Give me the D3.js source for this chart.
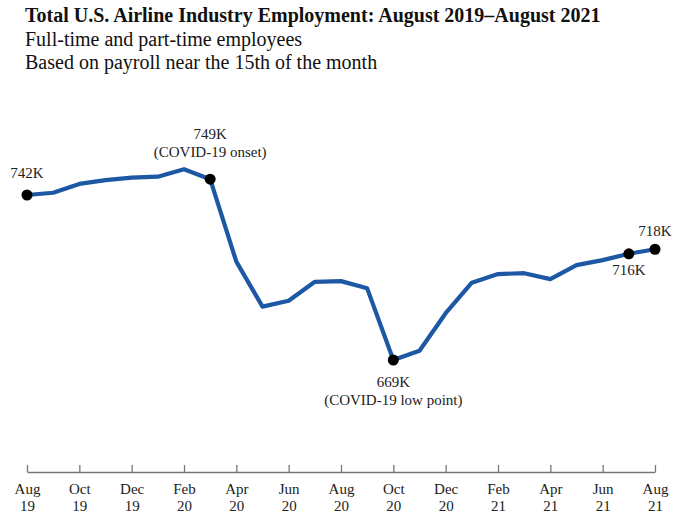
<!DOCTYPE html>
<html>
<head>
<meta charset="utf-8">
<script src="https://cdn.jsdelivr.net/npm/d3@7"></script>
<style>
  html, body { margin: 0; padding: 0; background: #fff; }
  svg { display: block; }
</style>
</head>
<body>
<script>
// monthly employment, thousands
const months = [
  "Aug 19", "Sep 19", "Oct 19", "Nov 19", "Dec 19", "Jan 20", "Feb 20", "Mar 20",
  "Apr 20", "May 20", "Jun 20", "Jul 20", "Aug 20", "Sep 20", "Oct 20", "Nov 20",
  "Dec 20", "Jan 21", "Feb 21", "Mar 21", "Apr 21", "May 21", "Jun 21", "Jul 21", "Aug 21"
];
const employment = [
  742, 743, 746.9, 748.6, 749.7, 750.1, 753.4, 749,
  712.5, 692.6, 695.2, 703.6, 703.9, 700.7, 669, 673.1,
  689.7, 703.2, 707.0, 707.4, 704.8, 711.0, 713.2, 716, 718
];
const tickMonths = d3.range(0, months.length, 2);

const titleLines = [
  "Total U.S. Airline Industry Employment: August 2019\u2013August 2021",
  "Full-time and part-time employees",
  "Based on payroll near the 15th of the month"
];

const callouts = [
  {i: 0, lines: ["742K"]},
  {i: 7, lines: ["749K", "(COVID-19 onset)"]},
  {i: 14, lines: ["669K", "(COVID-19 low point)"]},
  {i: 23, lines: ["716K"]},
  {i: 24, lines: ["718K"]}
];

const width = 687, height = 512;
const serif = "'Liberation Serif', 'Times New Roman', serif";

const x = d3.scaleLinear()
    .domain([0, months.length - 1])
    .range([27, 655]);

const y = d3.scaleLinear()
    .domain([669, 742])
    .range([360, 195]);

const svg = d3.select("body").append("svg")
    .attr("width", width)
    .attr("height", height)
    .attr("font-family", serif)
    .attr("fill", "#222");

// title block
svg.append("g")
  .selectAll("text")
  .data(titleLines)
  .join("text")
    .attr("x", 25)
    .attr("y", (d, i) => 22 + i * 23.5)
    .attr("font-size", 20)
    .attr("font-weight", (d, i) => i === 0 ? "bold" : null)
    .attr("fill", "#111")
    .text(d => d);

// x axis, ticks pointing up
const axis = svg.append("g")
    .attr("transform", "translate(0,472)")
    .call(d3.axisBottom(x)
      .tickValues(tickMonths)
      .tickSize(-7)
      .tickSizeOuter(0)
      .tickFormat(i => months[i]));

axis.select(".domain").attr("stroke", "#777").attr("stroke-width", 1.3);
axis.selectAll(".tick line").attr("stroke", "#777").attr("stroke-width", 1.3);
axis.selectAll(".tick text")
    .attr("font-family", serif)
    .attr("font-size", 15)
    .attr("fill", "#222")
    .attr("y", 0)
    .attr("dy", null)
    .each(function(i) {
      const parts = months[i].split(" ");
      const t = d3.select(this).text(null);
      t.append("tspan").attr("x", 0).attr("y", 22).text(parts[0]);
      t.append("tspan").attr("x", 0).attr("y", 38.5).text(parts[1]);
    });

// the line
const line = d3.line()
    .x((d, i) => x(i))
    .y(d => y(d));

svg.append("path")
    .datum(employment)
    .attr("fill", "none")
    .attr("stroke", "#1c58a4")
    .attr("stroke-width", 4.2)
    .attr("stroke-linejoin", "round")
    .attr("stroke-linecap", "round")
    .attr("d", line);

// highlighted points
svg.append("g")
  .selectAll("circle")
  .data(callouts)
  .join("circle")
    .attr("cx", d => x(d.i))
    .attr("cy", d => y(employment[d.i]))
    .attr("r", 5.5)
    .attr("fill", "#000");

// label baselines relative to the dot
const labelOffset = {0: -17, 7: -40, 14: 27, 23: 21, 24: -13};

const labels = svg.append("g")
    .attr("font-size", 15)
    .attr("text-anchor", "middle")
    .attr("fill", "#222")
  .selectAll("text")
  .data(callouts)
  .join("text")
    .attr("transform", d => `translate(${x(d.i)},${y(employment[d.i]) + labelOffset[d.i]})`);

labels.selectAll("tspan")
  .data(d => d.lines)
  .join("tspan")
    .attr("x", 0)
    .attr("y", (d, j) => j * 17.5)
    .text(d => d);
</script>
</body>
</html>
